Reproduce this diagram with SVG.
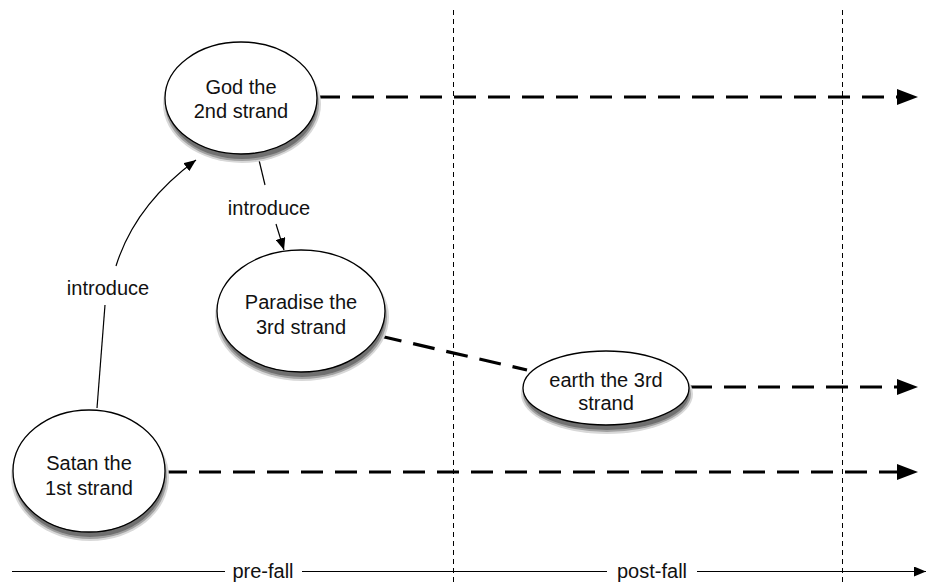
<svg xmlns="http://www.w3.org/2000/svg" width="934" height="585" viewBox="0 0 934 585">
<defs>
<marker id="small" markerWidth="12" markerHeight="10" refX="12" refY="5" orient="auto" markerUnits="userSpaceOnUse">
<path d="M0,0 L12,5 L0,10 z" fill="#000"/>
</marker>
</defs>
<style>
.body{fill:#fff;stroke:#000;stroke-width:1.3}
text{font-family:"Liberation Sans",Arial,sans-serif;font-size:20px;fill:#111;text-anchor:middle}
.dash{fill:none;stroke:#000;stroke-width:3.2;stroke-dasharray:22,12}
.vdash{fill:none;stroke:#000;stroke-width:1;stroke-dasharray:5,4}
.thin{fill:none;stroke:#000;stroke-width:1.2}
</style>
<rect width="934" height="585" fill="#fff"/>
<line class="vdash" x1="453.5" y1="10" x2="453.5" y2="582"/>
<line class="vdash" x1="842.5" y1="10" x2="842.5" y2="582"/>
<g id="connectors">
<line class="dash" x1="318" y1="97" x2="897" y2="97"/>
<path d="M897,89 L918,97 L897,105 z"/>
<line class="dash" x1="380" y1="336" x2="527" y2="370"/>
<line class="dash" x1="690" y1="387" x2="897" y2="387"/>
<path d="M897,379 L918,387 L897,395 z"/>
<line class="dash" x1="165" y1="472" x2="897" y2="472"/>
<path d="M897,464 L918,472 L897,480 z"/>
<path class="thin" d="M97,408 L105,305"/>
<path class="thin" d="M116,266 Q135,205 196,160" marker-end="url(#small)"/>
<text x="108" y="295">introduce</text>
<path class="thin" d="M259,160 L265,185"/>
<path class="thin" d="M276,224 L284,250" marker-end="url(#small)"/>
<text x="269" y="215">introduce</text>
<line class="thin" x1="12" y1="571.5" x2="225" y2="571.5"/>
<line class="thin" x1="302" y1="571.5" x2="607" y2="571.5"/>
<line class="thin" x1="697" y1="571.5" x2="926" y2="571.5" marker-end="url(#small)"/>
<text x="263" y="578">pre-fall</text>
<text x="652" y="578">post-fall</text>
</g>
<g id="god">
<ellipse fill="#d8d8d8" cx="242" cy="104" rx="79" ry="59"/>
<ellipse fill="#a0a0a0" cx="242" cy="104" rx="77" ry="57"/>
<ellipse fill="#707070" cx="242" cy="104" rx="75" ry="55"/>
<ellipse class="body" cx="241" cy="98" rx="76" ry="56"/>
<text x="241" y="94">God the</text>
<text x="241" y="118">2nd strand</text>
</g>
<g id="paradise">
<ellipse fill="#d8d8d8" cx="302" cy="317" rx="87" ry="64"/>
<ellipse fill="#a0a0a0" cx="302" cy="317" rx="85" ry="62"/>
<ellipse fill="#707070" cx="302" cy="317" rx="83" ry="60"/>
<ellipse class="body" cx="301" cy="311" rx="84" ry="61"/>
<text x="301" y="309">Paradise the</text>
<text x="301" y="334">3rd strand</text>
</g>
<g id="satan">
<ellipse fill="#d8d8d8" cx="90" cy="477" rx="79" ry="64"/>
<ellipse fill="#a0a0a0" cx="90" cy="477" rx="77" ry="62"/>
<ellipse fill="#707070" cx="90" cy="477" rx="75" ry="60"/>
<ellipse class="body" cx="89" cy="471" rx="76" ry="61"/>
<text x="89" y="470">Satan the</text>
<text x="89" y="495">1st strand</text>
</g>
<g id="earth">
<ellipse fill="#d8d8d8" cx="607" cy="394" rx="86" ry="40"/>
<ellipse fill="#a0a0a0" cx="607" cy="394" rx="84" ry="38"/>
<ellipse fill="#707070" cx="607" cy="394" rx="82" ry="36"/>
<ellipse class="body" cx="606" cy="388" rx="83" ry="37"/>
<text x="606" y="387">earth the 3rd</text>
<text x="606" y="410">strand</text>
</g>
</svg>
